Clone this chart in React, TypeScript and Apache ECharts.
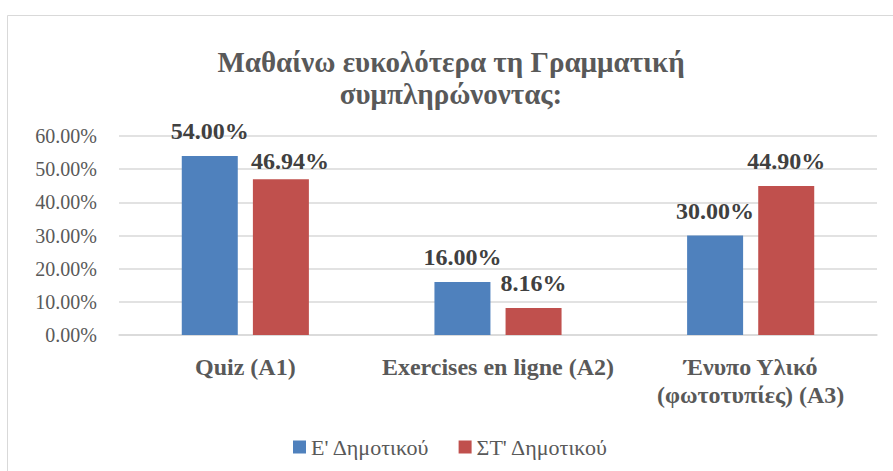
import React, { useEffect, useRef } from "react";
import * as echarts from "echarts";

const categories = ["Quiz (A1)", "Exercises en ligne (A2)", "Ένυπο Υλικό\n(φωτοτυπίες) (A3)"];
const seriesNames = ["Ε' Δημοτικού", "ΣΤ' Δημοτικού"];
const seriesE = [54.0, 16.0, 30.0];
const seriesST = [46.94, 8.16, 44.9];
const titleText = "Μαθαίνω ευκολότερα τη Γραμματική\nσυμπληρώνοντας:";

const FONT = "'Liberation Serif', 'Times New Roman', serif";

export default function App() {
  const ref = useRef<HTMLDivElement>(null);
  useEffect(() => {
    const chart = echarts.init(ref.current!, null, { renderer: "svg" });
    const label = {
      show: true,
      position: "top",
      distance: 13,
      fontFamily: FONT,
      fontSize: 24,
      fontWeight: "bold",
      color: "#404040",
      formatter: (p: any) => p.value.toFixed(2) + "%",
    };
    const stData = seriesST.map((v, i) =>
      i === 0 ? { value: v, label: { offset: [9, 7] } } : v
    );
    chart.setOption({
      animation: false,
      backgroundColor: "#ffffff",
      textStyle: { fontFamily: FONT },
      graphic: [
        {
          type: "rect",
          shape: { x: 7.5, y: 15.5, width: 900, height: 470 },
          style: { fill: "none", stroke: "#D9D9D9", lineWidth: 1 },
          silent: true,
        },
      ],
      title: {
        text: titleText,
        left: 446,
        textAlign: "center",
        top: 41,
        textStyle: {
          fontFamily: FONT,
          fontSize: 29,
          fontWeight: "bold",
          color: "#595959",
          lineHeight: 32,
        },
      },
      legend: {
        data: seriesNames,
        top: 431,
        left: 288,
        icon: "rect",
        itemWidth: 13,
        itemHeight: 13,
        itemGap: 29,
        textStyle: { fontFamily: FONT, fontSize: 22, color: "#595959" },
      },
      grid: { left: 119, right: 16, top: 136, bottom: 136, containLabel: false },
      xAxis: {
        type: "category",
        data: categories,
        axisLine: { show: true, lineStyle: { color: "#D9D9D9", width: 1.5 } },
        axisTick: { show: false },
        axisLabel: {
          fontFamily: FONT,
          fontSize: 24,
          fontWeight: "bold",
          color: "#595959",
          lineHeight: 28,
          margin: 18,
          interval: 0,
        },
      },
      yAxis: {
        type: "value",
        min: 0,
        max: 60,
        interval: 10,
        axisLine: { show: false },
        axisTick: { show: false },
        splitLine: { lineStyle: { color: "#D9D9D9", width: 1.5 } },
        axisLabel: {
          fontFamily: FONT,
          fontSize: 20,
          color: "#595959",
          margin: 22,
          formatter: (v: number) => v.toFixed(2) + "%",
        },
      },
      series: [
        {
          name: seriesNames[0],
          type: "bar",
          data: seriesE,
          barWidth: 56,
          barGap: "27%",
          itemStyle: { color: "#4F81BD" },
          label,
        },
        {
          name: seriesNames[1],
          type: "bar",
          data: stData,
          barWidth: 56,
          barGap: "27%",
          itemStyle: { color: "#C0504D" },
          label,
        },
      ],
    });
    return () => chart.dispose();
  }, []);
  return (
    <div
      ref={ref}
      style={{ position: "fixed", left: 0, top: 0, width: 893, height: 471 }}
    />
  );
}
